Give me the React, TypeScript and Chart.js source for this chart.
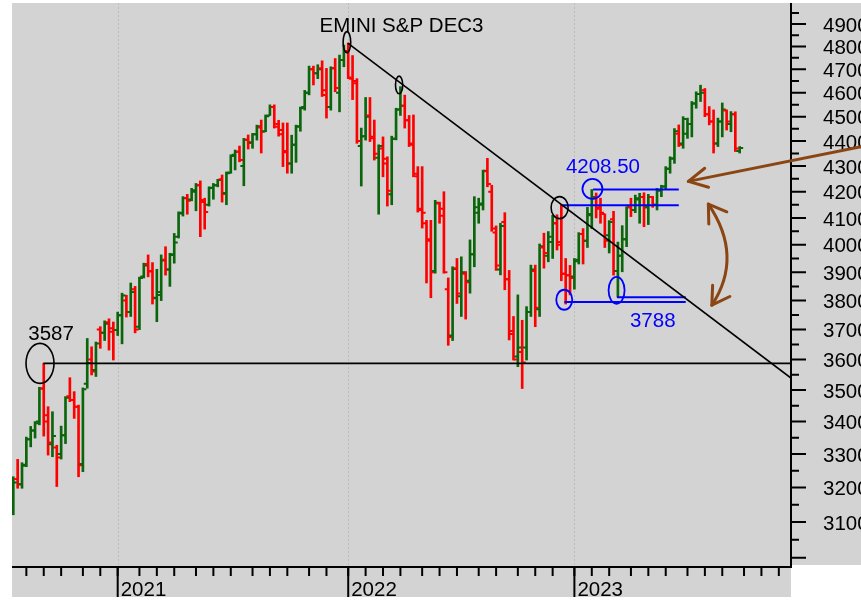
import React, { useEffect, useRef } from 'react';
import { Chart, registerables } from 'chart.js';

Chart.register(...registerables);

// ---- weekly OHLC (week index 0 = week ending 17 Jul 2020) ----
const opens = [
  3160, 3225, 3210, 3268, 3345, 3372, 3400, 3505, 3400, 3330, 3320, 3300, 3358, 3480, 3468, 3447, 3270, 3520, 3600, 3565,
  3700, 3689, 3725, 3705, 3699, 3750, 3800, 3760, 3840, 3710, 3885, 3930, 3905, 3810, 3830, 3945, 3910, 3965, 4030, 4120,
  4175, 4170, 4200, 4225, 4160, 4150, 4215, 4225, 4248, 4195, 4275, 4345, 4357, 4300, 4405, 4395, 4428, 4455, 4440, 4505,
  4540, 4470, 4445, 4355, 4310, 4385, 4460, 4540, 4600, 4700, 4683, 4705, 4610, 4540, 4705, 4600, 4740, 4780, 4660, 4640,
  4380, 4420, 4505, 4412, 4333, 4370, 4310, 4190, 4410, 4530, 4545, 4485, 4385, 4260, 4135, 4080, 4015, 3905, 4155, 4135,
  3840, 3680, 3915, 3815, 3895, 3870, 3965, 4120, 4155, 4280, 4200, 4045, 3910, 4085, 3875, 3685, 3610, 3625, 3640, 3760,
  3905, 3770, 3990, 3960, 4010, 4080, 4010, 3895, 3890, 3885, 3945, 4040, 4015, 4110, 4175, 4140, 4115, 4035, 4095, 3905,
  3960, 4020, 4140, 4130, 4170, 4180, 4140, 4180, 4150, 4205, 4220, 4290, 4330, 4430, 4390, 4430, 4470, 4555, 4595, 4610,
  4510, 4480, 4390, 4480, 4525, 4470, 4510, 4360,
];
const highs = [
  3232, 3284, 3274, 3352, 3385, 3400, 3509, 3587, 3447, 3431, 3327, 3386, 3479, 3540, 3495, 3452, 3507, 3670, 3642, 3658,
  3710, 3730, 3737, 3726, 3760, 3826, 3819, 3862, 3850, 3883, 3933, 3963, 3935, 3911, 3963, 3993, 3969, 4042, 4123, 4181,
  4190, 4213, 4232, 4242, 4175, 4219, 4232, 4248, 4265, 4277, 4345, 4364, 4380, 4411, 4425, 4431, 4465, 4486, 4507, 4549,
  4549, 4485, 4474, 4474, 4424, 4465, 4540, 4610, 4714, 4714, 4720, 4737, 4704, 4711, 4747, 4762, 4806, 4815, 4760, 4660,
  4453, 4580, 4580, 4486, 4385, 4417, 4337, 4420, 4535, 4626, 4590, 4505, 4507, 4298, 4298, 4091, 4091, 4167, 4160, 4200,
  3880, 3920, 3950, 3956, 3903, 4018, 4181, 4175, 4284, 4331, 4225, 4070, 4080, 4120, 3907, 3745, 3820, 3732, 3779, 3926,
  3926, 4003, 4043, 4049, 4110, 4112, 4148, 3950, 3925, 3950, 4045, 4060, 4140, 4208.5, 4195, 4175, 4115, 4090, 4125, 4010,
  4071, 4142, 4175, 4187, 4194, 4196, 4190, 4182, 4213, 4225, 4298, 4337, 4451, 4466, 4500, 4494, 4563, 4604, 4632, 4618,
  4542, 4528, 4494, 4557, 4528, 4521, 4520, 4378,
];
const lows = [
  3121, 3198, 3198, 3262, 3322, 3349, 3390, 3355, 3297, 3292, 3203, 3285, 3332, 3463, 3410, 3232, 3247, 3506, 3549, 3544,
  3637, 3663, 3631, 3598, 3680, 3652, 3743, 3745, 3689, 3700, 3880, 3884, 3788, 3727, 3800, 3890, 3850, 3933, 4025, 4107,
  4114, 4165, 4127, 4030, 4058, 4145, 4171, 4219, 4160, 4150, 4272, 4285, 4317, 4223, 4368, 4371, 4404, 4352, 4438, 4505,
  4453, 4420, 4298, 4272, 4272, 4315, 4440, 4527, 4591, 4633, 4660, 4584, 4494, 4527, 4604, 4520, 4711, 4660, 4571, 4391,
  4222, 4404, 4398, 4324, 4114, 4258, 4145, 4150, 4405, 4505, 4453, 4378, 4258, 4122, 4062, 3862, 3810, 3897, 4080, 3897,
  3647, 3663, 3790, 3745, 3736, 3826, 3920, 4080, 4130, 4219, 4050, 3907, 3891, 3838, 3665, 3598, 3576, 3505, 3598, 3745,
  3710, 3745, 3915, 3938, 3950, 3981, 3870, 3788, 3820, 3840, 3930, 3930, 3990, 4060, 4100, 4080, 3990, 3970, 3890, 3812,
  3902, 3993, 4105, 4120, 4080, 4067, 4075, 4140, 4130, 4181, 4210, 4272, 4311, 4378, 4371, 4411, 4417, 4535, 4563, 4500,
  4466, 4352, 4378, 4417, 4445, 4438, 4358, 4352,
];
const closes = [
  3215, 3210, 3265, 3345, 3372, 3395, 3505, 3420, 3335, 3355, 3290, 3358, 3475, 3468, 3447, 3266, 3503, 3588, 3560, 3653,
  3689, 3720, 3693, 3699, 3748, 3818, 3760, 3830, 3700, 3880, 3925, 3903, 3808, 3820, 3943, 3910, 3963, 4008, 4117, 4176,
  4165, 4206, 4225, 4168, 4122, 4214, 4225, 4245, 4191, 4272, 4340, 4357, 4324, 4405, 4392, 4428, 4460, 4438, 4502, 4540,
  4458, 4428, 4360, 4310, 4385, 4458, 4535, 4600, 4700, 4683, 4700, 4590, 4540, 4705, 4620, 4740, 4780, 4665, 4650, 4400,
  4420, 4500, 4418, 4349, 4380, 4329, 4204, 4410, 4530, 4545, 4485, 4390, 4270, 4130, 4120, 4020, 3900, 4158, 4108, 3900,
  3675, 3912, 3825, 3900, 3865, 3965, 4140, 4150, 4282, 4230, 4060, 3925, 4070, 3875, 3695, 3600, 3640, 3590, 3760, 3910,
  3775, 3995, 3970, 4030, 4080, 4000, 3895, 3890, 3880, 3940, 4040, 4015, 4115, 4180, 4135, 4120, 4015, 4085, 3905, 3960,
  4020, 4140, 4130, 4175, 4180, 4140, 4180, 4150, 4205, 4220, 4290, 4330, 4440, 4385, 4490, 4470, 4555, 4595, 4600, 4510,
  4480, 4390, 4480, 4530, 4480, 4510, 4370, 4372,
];

// ---- axes ----
const monthStarts = [
  3, 7, 11, 16, 20, 24, 29, 33, 37, 42, 46, 50, 55, 59, 63, 68, 72, 77, 81, 85, 89, 94, 98, 102, 107, 111,
  116, 120, 124, 129, 133, 137, 142, 146, 150, 155, 159, 163, 168, 172, 176,
];
const yearStarts = [24, 77, 129];
const yearLabels = ['2021', '2022', '2023'];
const majorPrices = [3000, 3100, 3200, 3300, 3400, 3500, 3600, 3700, 3800, 3900, 4000, 4100, 4200, 4300, 4400, 4500, 4600, 4700, 4800, 4900];
const minorPrices = [3050, 3150, 3250, 3350, 3450, 3550, 3650, 3750, 3850, 3950, 4050, 4150, 4250, 4350, 4450, 4550, 4650, 4750, 4850, 4950];
const labelledPrices = [3100, 3200, 3300, 3400, 3500, 3600, 3700, 3800, 3900, 4000, 4100, 4200, 4300, 4400, 4500, 4600, 4700, 4800, 4900];
const X_MIN = -0.3;
const X_MAX = 178.8;
const Y_MIN = 2974.7;
const Y_MAX = 4995.5;

// ---- annotations (data coordinates: week index, price) ----
const titleText = 'EMINI S&P DEC3';
const supportLevel = 3587;
const supportFrom = 6.9;
const trendFrom = { x: 76.9, y: 4815 };
const trendTo = { x: 178.8, y: 3539 };
const blueLevels = [
  { y: 4208.5, from: 133.3, to: 153.0 },
  { y: 4148, from: 126.1, to: 153.0 },
  { y: 3795, from: 126.7, to: 154.6 },
  { y: 3812, from: 138.8, to: 154.6 },
];
const circles = [
  { x: 6.14, y: 3587, rx: 14, ry: 20, color: '#000000', w: 1.6 },
  { x: 76.7, y: 4819, rx: 3.8, ry: 10.5, color: '#000000', w: 1.6 },
  { x: 88.7, y: 4633, rx: 3.6, ry: 8.8, color: '#000000', w: 1.6 },
  { x: 125.6, y: 4139, rx: 8.5, ry: 11, color: '#000000', w: 1.6 },
  { x: 133.15, y: 4211, rx: 10, ry: 10, color: '#0000ff', w: 1.8 },
  { x: 126.67, y: 3803, rx: 8, ry: 10, color: '#0000ff', w: 1.8 },
  { x: 138.7, y: 3836, rx: 8, ry: 13.5, color: '#0000ff', w: 1.8 },
];
const notes = [
  { text: '3587', x: 3.45, y: 3665, color: '#000000' },
  { text: '4208.50', x: 127.05, y: 4273, color: '#0000ff' },
  { text: '3788', x: 141.77, y: 3709, color: '#0000ff' },
];
const straightArrow = { tail: { x: 194.9, y: 4377 }, tip: { x: 155.2, y: 4240 } };
const curvedArrow = { a: { x: 159.8, y: 4152.6 }, c: { x: 167.97, y: 3958 }, b: { x: 160.6, y: 3784 } };

const FONT = '"Liberation Sans", Arial, Helvetica, sans-serif';
const UP = '#0b650b';
const DOWN = '#ff0000';
const PANEL = '#d3d3d3';
const BROWN = '#8b4513';

const colorOf = (i: number) => (closes[i] >= opens[i] ? UP : DOWN);

function arrowHead(ctx: CanvasRenderingContext2D, tx: number, ty: number, towardX: number, towardY: number, len: number, spread: number) {
  const ang = Math.atan2(towardY - ty, towardX - tx);
  ctx.beginPath();
  ctx.moveTo(tx + len * Math.cos(ang - spread), ty + len * Math.sin(ang - spread));
  ctx.lineTo(tx, ty);
  ctx.lineTo(tx + len * Math.cos(ang + spread), ty + len * Math.sin(ang + spread));
  ctx.stroke();
}

const overlay = {
  id: 'overlay',
  beforeDraw(chart: any) {
    const { ctx, chartArea: a } = chart;
    ctx.save();
    ctx.fillStyle = '#ffffff';
    ctx.fillRect(0, 0, chart.width, chart.height);
    ctx.fillStyle = PANEL;
    ctx.fillRect(a.left, a.top, chart.width - a.left, a.bottom - 2 - a.top);
    ctx.fillRect(a.left, a.top, a.right - a.left, a.bottom + 30 - a.top);
    ctx.restore();
  },
  beforeDatasetsDraw(chart: any) {
    const { ctx, chartArea: a } = chart;
    const xs = chart.scales.x;
    ctx.save();
    ctx.strokeStyle = '#bcbcbc';
    ctx.lineWidth = 1;
    ctx.setLineDash([2, 2]);
    for (const idx of yearStarts) {
      const x = Math.round(xs.getPixelForValue(idx)) + 0.5;
      ctx.beginPath();
      ctx.moveTo(x, a.top);
      ctx.lineTo(x, a.bottom);
      ctx.stroke();
    }
    ctx.restore();
  },
  afterDatasetDraw(chart: any, args: any) {
    if (args.meta.type !== 'bar') return;
    const { ctx, chartArea: a } = chart;
    const xs = chart.scales.x;
    const ys = chart.scales.y;
    ctx.save();
    ctx.beginPath();
    ctx.rect(a.left, a.top, a.right - a.left, a.bottom - a.top);
    ctx.clip();
    ctx.lineWidth = 2;
    for (let i = 0; i < opens.length; i++) {
      const x = xs.getPixelForValue(i);
      ctx.strokeStyle = colorOf(i);
      const yo = ys.getPixelForValue(opens[i]);
      const yc = ys.getPixelForValue(closes[i]);
      ctx.beginPath();
      ctx.moveTo(x - 3.5, yo);
      ctx.lineTo(x, yo);
      ctx.moveTo(x, yc);
      ctx.lineTo(x + 3.5, yc);
      ctx.stroke();
    }
    ctx.restore();
  },
  afterDraw(chart: any) {
    const { ctx, chartArea: a } = chart;
    const xs = chart.scales.x;
    const ys = chart.scales.y;
    const px = (v: number) => xs.getPixelForValue(v);
    const py = (v: number) => ys.getPixelForValue(v);
    ctx.save();
    // axis lines
    ctx.strokeStyle = '#000';
    ctx.lineWidth = 2;
    ctx.beginPath();
    ctx.moveTo(a.left, a.bottom);
    ctx.lineTo(a.right + 1, a.bottom);
    ctx.moveTo(a.right, a.top);
    ctx.lineTo(a.right, a.bottom);
    ctx.stroke();
    // price ticks
    ctx.beginPath();
    for (const v of majorPrices) {
      const y = py(v);
      ctx.moveTo(a.right, y);
      ctx.lineTo(a.right + 15, y);
    }
    for (const v of minorPrices) {
      const y = py(v);
      ctx.moveTo(a.right, y);
      ctx.lineTo(a.right + 8, y);
    }
    ctx.stroke();
    // month ticks
    ctx.beginPath();
    for (const m of monthStarts) {
      const x = px(m);
      if (x > a.right) continue;
      ctx.moveTo(x, a.bottom);
      ctx.lineTo(x, a.bottom + 9);
    }
    ctx.stroke();
    // year marks
    ctx.font = `20.5px ${FONT}`;
    ctx.fillStyle = '#000';
    ctx.textBaseline = 'alphabetic';
    ctx.textAlign = 'left';
    yearStarts.forEach((idx, k) => {
      const x = px(idx);
      ctx.beginPath();
      ctx.moveTo(x, a.bottom);
      ctx.lineTo(x, a.bottom + 30);
      ctx.stroke();
      ctx.fillText(yearLabels[k], x + 3, a.bottom + 28.5);
    });
    // title
    ctx.textAlign = 'center';
    ctx.fillText(titleText, (a.left + a.right) / 2, a.top + 29);
    // circles
    for (const c of circles) {
      ctx.strokeStyle = c.color;
      ctx.lineWidth = c.w;
      ctx.beginPath();
      ctx.ellipse(px(c.x), py(c.y), c.rx, c.ry, 0, 0, Math.PI * 2);
      ctx.stroke();
    }
    // notes
    ctx.textAlign = 'left';
    for (const n of notes) {
      ctx.fillStyle = n.color;
      ctx.fillText(n.text, px(n.x), py(n.y));
    }
    // arrows
    ctx.strokeStyle = BROWN;
    ctx.lineWidth = 3;
    ctx.lineJoin = 'round';
    ctx.lineCap = 'round';
    const t0 = { x: px(straightArrow.tail.x), y: py(straightArrow.tail.y) };
    const t1 = { x: px(straightArrow.tip.x), y: py(straightArrow.tip.y) };
    ctx.beginPath();
    ctx.moveTo(t0.x, t0.y);
    ctx.lineTo(t1.x, t1.y);
    ctx.stroke();
    arrowHead(ctx, t1.x, t1.y, t0.x, t0.y, 21, (27.5 * Math.PI) / 180);
    const p0 = { x: px(curvedArrow.a.x), y: py(curvedArrow.a.y) };
    const pc = { x: px(curvedArrow.c.x), y: py(curvedArrow.c.y) };
    const p2 = { x: px(curvedArrow.b.x), y: py(curvedArrow.b.y) };
    ctx.beginPath();
    ctx.moveTo(p0.x, p0.y);
    ctx.quadraticCurveTo(pc.x, pc.y, p2.x, p2.y);
    ctx.stroke();
    arrowHead(ctx, p0.x, p0.y, pc.x, pc.y, 20, (33 * Math.PI) / 180);
    arrowHead(ctx, p2.x, p2.y, pc.x, pc.y, 20, (31 * Math.PI) / 180);
    ctx.restore();
  },
};

export default function App() {
  const ref = useRef<HTMLCanvasElement>(null);
  useEffect(() => {
    document.body.style.margin = '0';
    const lineDs = (pts: { x: number; y: number }[], color: string, width: number) => ({
      type: 'line' as const,
      data: pts,
      borderColor: color,
      borderWidth: width,
      pointRadius: 0,
      tension: 0,
      fill: false,
      order: 1,
    });
    const datasets: any[] = [
      lineDs([{ x: supportFrom, y: supportLevel }, { x: X_MAX, y: supportLevel }], '#000000', 1.6),
      lineDs([trendFrom, trendTo], '#000000', 1.6),
      ...blueLevels.map((b) => lineDs([{ x: b.from, y: b.y }, { x: b.to, y: b.y }], '#0000ff', 2)),
      {
        type: 'bar',
        data: highs.map((h, i) => ({ x: i, y: [lows[i], h] })),
        backgroundColor: highs.map((_, i) => colorOf(i)),
        borderWidth: 0,
        barThickness: 2,
        grouped: false,
        order: 5,
      },
    ];
    const chart = new Chart(ref.current as HTMLCanvasElement, {
      type: 'bar',
      data: { datasets },
      options: {
        animation: false,
        responsive: false,
        devicePixelRatio: 1,
        events: [],
        layout: { padding: { left: 12, top: 3, right: 0, bottom: 33 } },
        plugins: { legend: { display: false }, tooltip: { enabled: false }, title: { display: false } },
        scales: {
          x: { type: 'linear', min: X_MIN, max: X_MAX, display: false, offset: false },
          y: {
            type: 'logarithmic',
            position: 'right',
            min: Y_MIN,
            max: Y_MAX,
            afterBuildTicks: (s: any) => {
              s.ticks = majorPrices.map((v) => ({ value: v }));
            },
            afterFit: (s: any) => {
              s.width = 70;
              s.paddingTop = 0;
              s.paddingBottom = 0;
              s.paddingLeft = 0;
              s.paddingRight = 0;
            },
            grid: { display: false, drawTicks: false },
            border: { display: false },
            ticks: {
              padding: 32,
              autoSkip: false,
              maxRotation: 0,
              labelOffset: 2,
              color: '#000000',
              font: { family: FONT, size: 20.5 },
              callback: (v: any) => (labelledPrices.includes(Number(v)) ? String(v) : ''),
            },
          },
        },
      } as any,
      plugins: [overlay],
    });
    return () => chart.destroy();
  }, []);
  return (
    <div style={{ width: 861, height: 600 }}>
      <canvas ref={ref} width={861} height={600} style={{ display: 'block' }} />
    </div>
  );
}
